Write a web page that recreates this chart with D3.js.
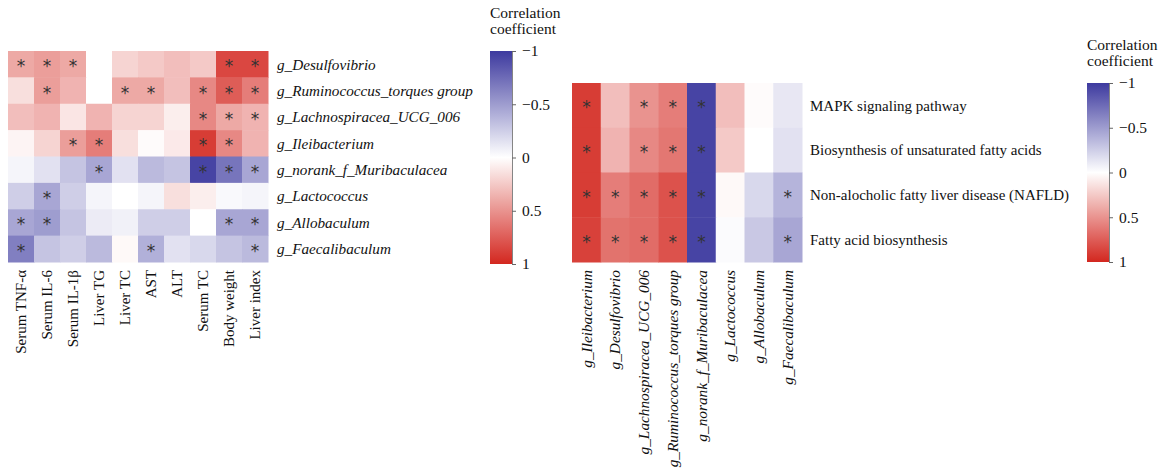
<!DOCTYPE html>
<html>
<head>
<meta charset="utf-8">
<script src="https://cdn.jsdelivr.net/npm/d3@7"></script>
<style>
  body { margin: 0; background: #fff; }
  text { font-family: "Liberation Serif", "Times New Roman", serif; fill: #111; }
</style>
</head>
<body>
<div id="chart"></div>
<script>
// left panel: bacteria x clinical indices
const leftRows = ["g_Desulfovibrio", "g_Ruminococcus_torques group", "g_Lachnospiracea_UCG_006", "g_Ileibacterium",
  "g_norank_f_Muribaculacea", "g_Lactococcus", "g_Allobaculum", "g_Faecalibaculum"];
const leftCols = ["Serum TNF-α", "Serum IL-6", "Serum IL-1β", "Liver TG", "Liver TC", "AST", "ALT", "Serum TC", "Body weight", "Liver index"];
const leftValues = [
  [0.40, 0.45, 0.40, 0.00, 0.20, 0.25, 0.30, 0.25, 0.85, 0.85],
  [0.15, 0.45, 0.35, 0.00, 0.40, 0.40, 0.30, 0.55, 0.75, 0.60],
  [0.30, 0.35, 0.12, 0.35, 0.20, 0.20, 0.08, 0.55, 0.40, 0.35],
  [0.05, 0.20, 0.45, 0.60, 0.15, 0.02, 0.10, 0.90, 0.55, 0.35],
  [-0.05, -0.15, -0.30, -0.45, -0.15, -0.35, -0.30, -0.95, -0.70, -0.45],
  [-0.25, -0.45, -0.25, -0.05, 0.00, -0.05, 0.15, 0.08, -0.03, -0.05],
  [-0.45, -0.50, -0.30, -0.10, -0.07, -0.25, -0.25, 0.00, -0.45, -0.45],
  [-0.65, -0.30, -0.25, -0.35, 0.03, -0.40, -0.15, -0.20, -0.30, -0.35]
];
const leftSig = [
  [1, 1, 1, 0, 0, 0, 0, 0, 1, 1],
  [0, 1, 0, 0, 1, 1, 0, 1, 1, 1],
  [0, 0, 0, 0, 0, 0, 0, 1, 1, 1],
  [0, 0, 1, 1, 0, 0, 0, 1, 1, 0],
  [0, 0, 0, 1, 0, 0, 0, 1, 1, 1],
  [0, 1, 0, 0, 0, 0, 0, 0, 0, 0],
  [1, 1, 0, 0, 0, 0, 0, 0, 1, 1],
  [1, 0, 0, 0, 0, 1, 0, 0, 0, 1]
];

// right panel: pathways x bacteria
const rightRows = ["MAPK signaling pathway", "Biosynthesis of unsaturated fatty acids",
  "Non-alocholic fatty liver disease (NAFLD)", "Fatty acid biosynthesis"];
const rightCols = ["g_Ileibacterium", "g_Desulfovibrio", "g_Lachnospiracea_UCG_006", "g_Ruminococcus_torques group",
  "g_norank_f_Muribaculacea", "g_Lactococcus", "g_Allobaculum", "g_Faecalibaculum"];
const rightValues = [
  [0.90, 0.30, 0.50, 0.60, -0.95, 0.30, 0.02, -0.12],
  [0.90, 0.35, 0.55, 0.63, -0.95, 0.25, 0.00, -0.15],
  [0.90, 0.60, 0.68, 0.80, -0.95, 0.03, -0.20, -0.38],
  [0.88, 0.65, 0.68, 0.80, -0.95, -0.02, -0.28, -0.45]
];
const rightSig = [
  [1, 0, 1, 1, 1, 0, 0, 0],
  [1, 0, 1, 1, 1, 0, 0, 0],
  [1, 1, 1, 1, 1, 0, 0, 1],
  [1, 1, 1, 1, 1, 0, 0, 1]
];

const legendTicks = [-1, -0.5, 0, 0.5, 1];

const W = 1167, H = 472;
const svg = d3.select("#chart").append("svg")
  .attr("width", W)
  .attr("height", H);

const color = d3.scaleLinear()
  .domain([-1, 0, 1])
  .range(["#3d3a9f", "#ffffff", "#d3271f"]);

// gradient for both colour bars
const grad = svg.append("defs").append("linearGradient")
  .attr("id", "cgrad")
  .attr("x1", 0).attr("y1", 0).attr("x2", 0).attr("y2", 1);
d3.range(0, 1.0001, 0.1).forEach(t => {
  grad.append("stop")
    .attr("offset", t)
    .attr("stop-color", color(-1 + 2 * t));
});

function heatmap(opts) {
  const { rows, cols, values, sig, x0, x1, y0, y1, rowItalic, colItalic, rowX, rowSize, colSize } = opts;
  const x = d3.scaleBand().domain(cols).range([x0, x1]);
  const y = d3.scaleBand().domain(rows).range([y0, y1]);
  const cells = [];
  rows.forEach((r, i) => cols.forEach((c, j) => cells.push({ r, c, v: values[i][j], s: sig[i][j] })));

  const g = svg.append("g");
  g.selectAll("rect")
    .data(cells)
    .enter().append("rect")
    .attr("x", d => x(d.c))
    .attr("y", d => y(d.r))
    .attr("width", x.bandwidth() + 0.5)
    .attr("height", y.bandwidth() + 0.5)
    .attr("fill", d => color(d.v));

  g.selectAll("text.star")
    .data(cells.filter(d => d.s))
    .enter().append("text")
    .attr("class", "star")
    .attr("x", d => x(d.c) + x.bandwidth() / 2)
    .attr("y", d => y(d.r) + y.bandwidth() / 2 + 8)
    .attr("text-anchor", "middle")
    .style("font-family", "DejaVu Sans, sans-serif")
    .style("font-size", "17px")
    .style("fill", "#333")
    .text("*");

  // row labels
  g.selectAll("text.rlab")
    .data(rows)
    .enter().append("text")
    .attr("class", "rlab")
    .attr("x", rowX)
    .attr("y", d => y(d) + y.bandwidth() / 2)
    .attr("dy", "0.35em")
    .style("font-size", rowSize)
    .style("font-style", rowItalic ? "italic" : "normal")
    .text(d => d);

  // column labels, rotated
  g.selectAll("text.clab")
    .data(cols)
    .enter().append("text")
    .attr("class", "clab")
    .attr("transform", d => `translate(${x(d) + x.bandwidth() / 2},${y1 + 8}) rotate(-90)`)
    .attr("dy", "0.35em")
    .attr("text-anchor", "end")
    .style("font-size", colSize)
    .style("font-style", colItalic ? "italic" : "normal")
    .text(d => d);
}

heatmap({ rows: leftRows, cols: leftCols, values: leftValues, sig: leftSig,
  x0: 8, x1: 268, y0: 51, y1: 262, rowX: 277, rowItalic: true, colItalic: false,
  rowSize: "15.2px", colSize: "15px" });
heatmap({ rows: rightRows, cols: rightCols, values: rightValues, sig: rightSig,
  x0: 572, x1: 802, y0: 83, y1: 262, rowX: 810, rowItalic: false, colItalic: true,
  rowSize: "15px", colSize: "15.3px" });

function legend(lx, top, bottom) {
  const g = svg.append("g");
  g.append("text").attr("x", lx).attr("y", top - 33).style("font-size", "15.5px").text("Correlation");
  g.append("text").attr("x", lx).attr("y", top - 17).style("font-size", "15.5px").text("coefficient");
  g.append("rect")
    .attr("x", lx)
    .attr("y", top)
    .attr("width", 22)
    .attr("height", bottom - top)
    .attr("fill", "url(#cgrad)");
  const s = d3.scaleLinear().domain([-1, 1]).range([top, bottom]);
  const ax = g.append("g")
    .attr("transform", `translate(${lx + 22},0)`)
    .call(d3.axisRight(s).tickValues(legendTicks).tickSize(4).tickPadding(6).tickFormat(d3.format("")));
  ax.select(".domain").attr("stroke", "#666").attr("stroke-width", 0.8);
  ax.selectAll(".tick line").attr("stroke", "#666");
  ax.selectAll(".tick text")
    .style("font-family", "Liberation Serif, serif")
    .style("font-size", "15.5px")
    .attr("fill", "#111");
}

legend(490, 51, 264);
legend(1087, 83, 262);
</script>
</body>
</html>
